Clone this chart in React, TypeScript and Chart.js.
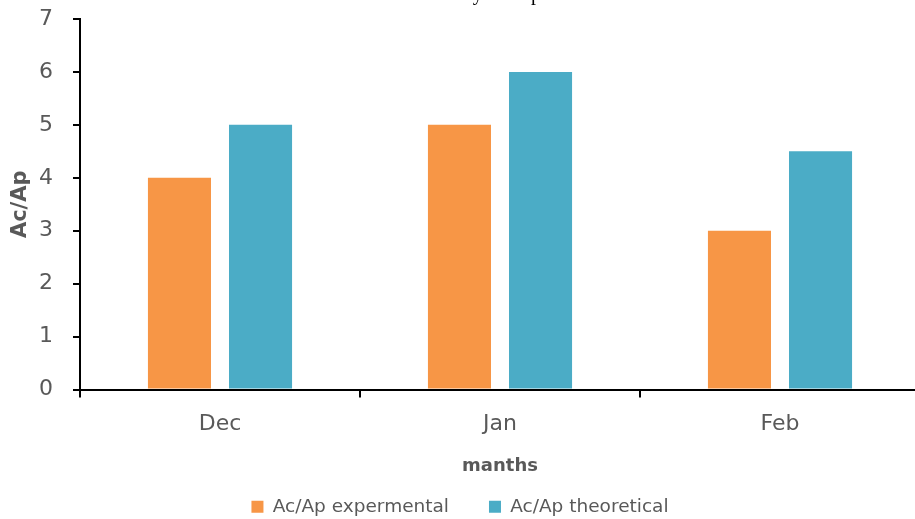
import React, { useEffect, useRef } from "react";
import { Chart, registerables } from "chart.js";

Chart.register(...registerables);

const categories = ["Dec", "Jan", "Feb"];
const experimental = [4, 5, 3];
const theoretical = [5, 6, 4.5];
const seriesNames = ["Ac/Ap expermental", "Ac/Ap theoretical"];
const chartTitle = "Daily Ac/Ap";
const xTitle = "manths";
const yTitle = "Ac/Ap";

const FONT = "'DejaVu Sans', sans-serif";
const GRAY = "#595959";

const titlePlugin = {
  id: "cutTitle",
  afterDraw(chart: any) {
    const ctx = chart.ctx;
    ctx.save();
    ctx.font = "20px 'Liberation Serif', serif";
    ctx.fillStyle = "#000";
    ctx.textAlign = "right";
    ctx.textBaseline = "alphabetic";
    ctx.fillText(chartTitle, 541, 20);
    ctx.restore();
  },
};

export default function App() {
  const ref = useRef<HTMLCanvasElement | null>(null);
  useEffect(() => {
    if (!ref.current) return;
    const chart = new Chart(ref.current, {
      type: "bar",
      data: {
        labels: categories,
        datasets: [
          {
            label: seriesNames[0],
            data: experimental,
            backgroundColor: "#F79646",
            borderWidth: 0,
            categoryPercentage: 0.579,
            barPercentage: 0.778,
          },
          {
            label: seriesNames[1],
            data: theoretical,
            backgroundColor: "#4BACC6",
            borderWidth: 0,
            categoryPercentage: 0.579,
            barPercentage: 0.778,
          },
        ],
      },
      options: {
        responsive: false,
        animation: false,
        layout: { padding: { top: 39, right: 5, left: 0, bottom: 0 } },
        plugins: {
          title: { display: false },
          tooltip: { enabled: false },
          legend: {
            position: "bottom",
            labels: {
              font: { family: FONT, size: 18.5 },
              color: GRAY,
              boxWidth: 12,
              boxHeight: 12,
              padding: 40,
            },
          },
        },
        scales: {
          x: {
            afterFit(scale: any) {
              scale.height = 68;
            },
            grid: {
              offset: true,
              drawOnChartArea: false,
              drawTicks: true,
              tickLength: 8,
              color: "#000",
              lineWidth: 2,
            },
            border: { display: true, color: "#000", width: 2 },
            ticks: {
              font: { family: FONT, size: 22 },
              color: GRAY,
              padding: 14,
            },
            title: {
              display: true,
              text: xTitle,
              font: { family: FONT, size: 18, weight: "bold" },
              color: GRAY,
              padding: { top: 0, bottom: -20 },
            },
          },
          y: {
            min: 0,
            max: 7,
            afterFit(scale: any) {
              scale.width = 80;
            },
            grid: {
              drawOnChartArea: false,
              drawTicks: true,
              tickLength: 7,
              color: "#000",
              lineWidth: 2,
            },
            border: { display: true, color: "#000", width: 2 },
            ticks: {
              stepSize: 1,
              font: { family: FONT, size: 22 },
              color: GRAY,
              padding: 20,
            },
            title: {
              display: true,
              text: yTitle,
              font: { family: FONT, size: 21, weight: "bold" },
              color: GRAY,
              padding: { top: 7.5, bottom: 0 },
            },
          },
        },
      },
      plugins: [titlePlugin],
    } as any);
    return () => chart.destroy();
  }, []);

  return (
    <div style={{ position: "fixed", inset: 0, overflow: "hidden", background: "#fff" }}>
      <div style={{ position: "absolute", left: 0, top: -20, width: 925, height: 546 }}>
        <canvas ref={ref} width={925} height={546} style={{ width: 925, height: 546 }} />
      </div>
    </div>
  );
}
